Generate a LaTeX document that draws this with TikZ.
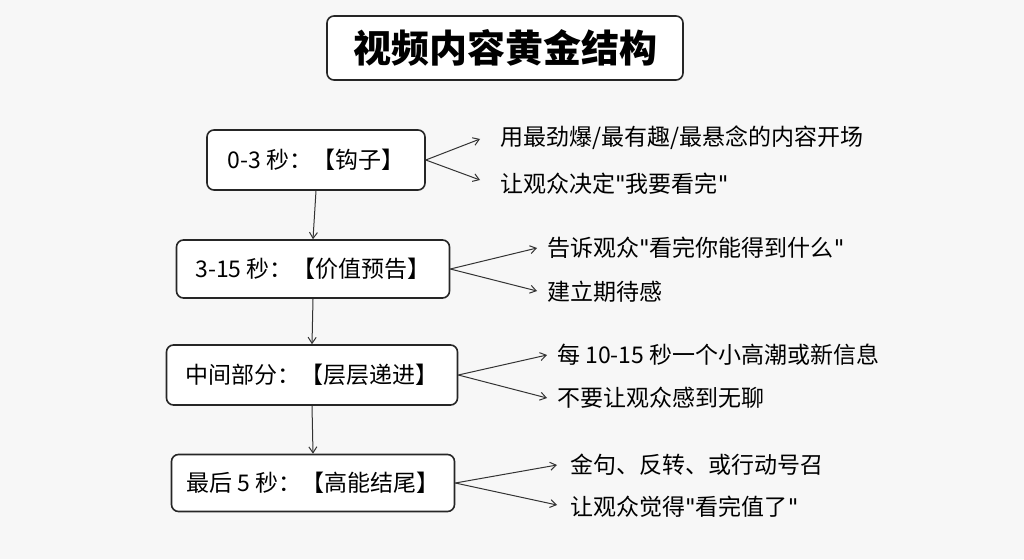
\documentclass[tikz,border=0pt]{standalone}
\usepackage{fontspec}
\setmainfont{Noto Sans CJK SC}
\newfontfamily\latf{DejaVu Sans}
\usetikzlibrary{arrows.meta}
\newcommand{\dq}{{\latf\symbol{34}}}
\begin{document}
\begin{tikzpicture}[x=1pt,y=-1pt,
  box/.style={draw=black!85,line width=1.6pt,rounded corners=7pt,fill=white,inner sep=0pt,font=\fontsize{23}{27}\selectfont},
  lab/.style={anchor=west,inner sep=0pt,font=\fontsize{23}{27}\selectfont},
  arr/.style={draw=black!80,line width=1pt,-{Straight Barb[length=6pt,width=8pt]}}]
\fill[gray!6] (0,0) rectangle (1024,559);
\useasboundingbox (0,0) rectangle (1024,559);
\node[box,minimum width=356pt,minimum height=64pt,font=\fontsize{38}{44}\selectfont\bfseries] (t) at (505,48) {视频内容黄金结构};
\node[box,minimum width=218pt,minimum height=60pt] (b1) at (316,160) {0-3 秒：【钩子】};
\node[box,minimum width=273pt,minimum height=58pt] (b2) at (313,269) {3-15 秒：【价值预告】};
\node[box,minimum width=291pt,minimum height=60pt] (b3) at (312,375) {中间部分：【层层递进】};
\node[box,minimum width=283pt,minimum height=57pt] (b4) at (313,483) {最后 5 秒：【高能结尾】};
\draw[arr] (b1.south) -- (b2.north);
\draw[arr] (b2.south) -- (b3.north);
\draw[arr] (b3.south) -- (b4.north);
\coordinate (a1) at (480,139); \coordinate (a2) at (480,180);
\coordinate (c1) at (537,248); \coordinate (c2) at (537,291);
\coordinate (d1) at (547,355); \coordinate (d2) at (547,398);
\coordinate (e1) at (557,465); \coordinate (e2) at (557,505);
\draw[arr] (b1.east) -- (a1); \draw[arr] (b1.east) -- (a2);
\draw[arr] (b2.east) -- (c1); \draw[arr] (b2.east) -- (c2);
\draw[arr] (b3.east) -- (d1); \draw[arr] (b3.east) -- (d2);
\draw[arr] (b4.east) -- (e1); \draw[arr] (b4.east) -- (e2);
\node[lab] (l1) at (500,138) {用最劲爆/最有趣/最悬念的内容开场};
\node[lab] (l2) at (500,184) {让观众决定\dq 我要看完\dq};
\node[lab] (l3) at (547,248) {告诉观众\dq 看完你能得到什么\dq};
\node[lab] (l4) at (547,292) {建立期待感};
\node[lab] (l5) at (557,355) {每 10-15 秒一个小高潮或新信息};
\node[lab] (l6) at (557,398) {不要让观众感到无聊};
\node[lab] (l7) at (570,465) {金句、反转、或行动号召};
\node[lab] (l8) at (570,507) {让观众觉得\dq 看完值了\dq};
\end{tikzpicture}
\end{document}
